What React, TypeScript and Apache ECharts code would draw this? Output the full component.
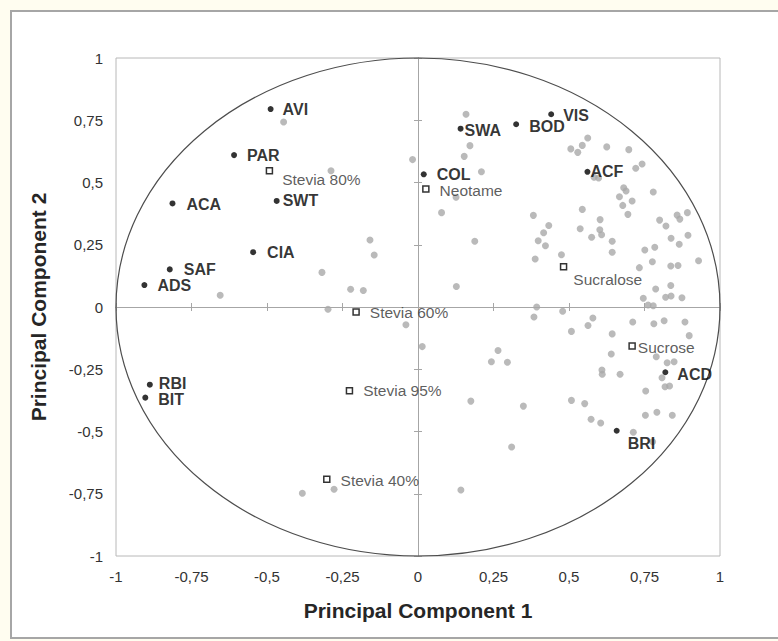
import React, { useEffect, useRef } from "react";
import * as echarts from "echarts";

// ---- Data ----
const axisTicks = [-1, -0.75, -0.5, -0.25, 0, 0.25, 0.5, 0.75, 1];

const consumerPoints: [number, number][] = [
  [-0.445, 0.743], [-0.288, 0.547], [-0.018, 0.592], [-0.159, 0.269], [-0.145, 0.209],
  [-0.318, 0.139], [-0.223, 0.071], [-0.181, 0.066], [-0.655, 0.047], [-0.298, -0.009],
  [-0.04, -0.071], [-0.383, -0.748], [-0.278, -0.732],
  [0.159, 0.774], [0.172, 0.648], [0.153, 0.605], [0.21, 0.543], [0.126, 0.441],
  [0.078, 0.379], [0.188, 0.264], [0.127, 0.082],
  [0.506, 0.635], [0.529, 0.621], [0.544, 0.649], [0.562, 0.679], [0.625, 0.643],
  [0.698, 0.632], [0.583, 0.521], [0.598, 0.518], [0.721, 0.557], [0.742, 0.574],
  [0.779, 0.462], [0.681, 0.479], [0.689, 0.466], [0.667, 0.443], [0.709, 0.426],
  [0.678, 0.408], [0.695, 0.372], [0.544, 0.392], [0.382, 0.368], [0.603, 0.351],
  [0.537, 0.314], [0.602, 0.31], [0.608, 0.29], [0.575, 0.28], [0.433, 0.327],
  [0.416, 0.298], [0.398, 0.266], [0.422, 0.246], [0.388, 0.193], [0.475, 0.21],
  [0.643, 0.264], [0.643, 0.22], [0.8, 0.349], [0.821, 0.325], [0.858, 0.369],
  [0.867, 0.353], [0.892, 0.379], [0.838, 0.276], [0.865, 0.252], [0.894, 0.288],
  [0.784, 0.24], [0.751, 0.229], [0.776, 0.182], [0.733, 0.158], [0.837, 0.165],
  [0.861, 0.167], [0.929, 0.186], [0.787, 0.072], [0.837, 0.086], [0.746, 0.035],
  [0.82, 0.039], [0.838, 0.044], [0.874, 0.037], [0.762, 0.008], [0.779, 0.005],
  [0.393, 0.0], [0.384, -0.04], [0.479, -0.017], [0.014, -0.159], [0.265, -0.175],
  [0.243, -0.22], [0.296, -0.222], [0.508, -0.098], [0.563, -0.074], [0.579, -0.044],
  [0.711, -0.06], [0.781, -0.067], [0.815, -0.055], [0.884, -0.06], [0.898, -0.115],
  [0.643, -0.108], [0.64, -0.189], [0.789, -0.2], [0.825, -0.224], [0.848, -0.22],
  [0.609, -0.253], [0.61, -0.27], [0.669, -0.27], [0.808, -0.284], [0.818, -0.32],
  [0.833, -0.317], [0.754, -0.337], [0.508, -0.375], [0.552, -0.388], [0.175, -0.378],
  [0.349, -0.398], [0.573, -0.451], [0.605, -0.466], [0.753, -0.435], [0.791, -0.423],
  [0.842, -0.435], [0.713, -0.503], [0.777, -0.541], [0.31, -0.562], [0.142, -0.735],
];

const attributeNames = ["AVI", "PAR", "ACA", "SWT", "CIA", "SAF", "ADS", "RBI", "BIT", "SWA", "BOD", "VIS", "COL", "ACF", "ACD", "BRI"];
const attributePC1 = [-0.488, -0.609, -0.813, -0.468, -0.546, -0.822, -0.906, -0.888, -0.903, 0.141, 0.325, 0.441, 0.019, 0.561, 0.819, 0.658];
const attributePC2 = [0.795, 0.61, 0.416, 0.426, 0.22, 0.151, 0.088, -0.312, -0.364, 0.716, 0.734, 0.774, 0.533, 0.543, -0.262, -0.497];

const sampleNames = ["Stevia 80%", "Neotame", "Sucralose", "Stevia 60%", "Stevia 95%", "Stevia 40%", "Sucrose"];
const samplePC1 = [-0.492, 0.026, 0.482, -0.205, -0.227, -0.302, 0.709];
const samplePC2 = [0.547, 0.474, 0.162, -0.02, -0.336, -0.692, -0.157];

const CIRCLE_RADIUS = 1;

// ---- Label placement (style, px: from marker centre to text start, vertical shift) ----
const labelShift: Record<string, [number, number]> = {
  AVI: [12, 0], PAR: [13, 0], ACA: [14, 1], SWT: [6, 0], CIA: [14, 0], SAF: [14, 0], ADS: [13, 0],
  RBI: [9, -1], BIT: [13, 2], SWA: [4, 2], BOD: [13, 2], VIS: [12, 1], COL: [13, 0], ACF: [3, 0],
  ACD: [12, 2], BRI: [11, 13],
  "Stevia 80%": [12, 9], Neotame: [13, 2], Sucralose: [9, 13], "Stevia 60%": [13, 1],
  "Stevia 95%": [13, 0], "Stevia 40%": [13, 1], Sucrose: [5, 1],
};

const FONT = "'Liberation Sans', Arial, sans-serif";
const fmt = (v: number) => String(v).replace(".", ",");

export default function App() {
  const ref = useRef<HTMLDivElement>(null);

  useEffect(() => {
    if (!ref.current) return;
    const chart = echarts.init(ref.current, undefined, { renderer: "svg" });

    const BLACK_SIZE = 6;
    const SQUARE_SIZE = 6;

    const attrData = attributeNames.map((n, i) => {
      const s = labelShift[n] || [10, 0];
      return {
        name: n,
        value: [attributePC1[i], attributePC2[i]],
        label: { offset: [s[0] - BLACK_SIZE / 2, s[1]] },
      };
    });
    const sampleData = sampleNames.map((n, i) => {
      const s = labelShift[n] || [10, 0];
      return {
        name: n,
        value: [samplePC1[i], samplePC2[i]],
        label: { offset: [s[0] - SQUARE_SIZE / 2, s[1]] },
      };
    });

    const baseAxis = { type: "value", min: -1, max: 1, interval: 0.25, splitLine: { show: false } };
    const lineAxis = (inside: boolean) => ({
      ...baseAxis,
      axisLine: { show: true, onZero: true, lineStyle: { color: "#a6a6a6", width: 1 } },
      axisTick: { show: true, inside, length: 4, lineStyle: { color: "#a6a6a6", width: 1 } },
      axisLabel: { show: false },
    });

    chart.setOption({
      animation: false,
      backgroundColor: "#fffdf0",
      textStyle: { fontFamily: FONT },
      graphic: [
        {
          type: "rect",
          shape: { x: 11, y: 11, width: 780, height: 627 },
          style: { fill: "#ffffff", stroke: "#a6a6a6", lineWidth: 2 },
          z: -10,
          silent: true,
        },
      ],
      grid: {
        left: 116,
        top: 58,
        width: 604,
        height: 498,
        show: true,
        borderColor: "#b8b8b8",
        borderWidth: 1,
        backgroundColor: "transparent",
      },
      xAxis: [
        {
          ...baseAxis,
          position: "bottom",
          axisLine: { show: false, onZero: false },
          axisTick: { show: false },
          axisLabel: { fontSize: 15, color: "#333", margin: 13, fontFamily: FONT, formatter: fmt, customValues: axisTicks },
          name: "Principal Component 1",
          nameLocation: "middle",
          nameGap: 44,
          nameTextStyle: { fontSize: 21, fontWeight: "bold", color: "#262626", fontFamily: FONT },
        },
        lineAxis(false),
        lineAxis(true),
      ],
      yAxis: [
        {
          ...baseAxis,
          position: "left",
          axisLine: { show: false, onZero: false },
          axisTick: { show: false },
          axisLabel: { fontSize: 15, color: "#333", margin: 13, fontFamily: FONT, formatter: fmt },
          name: "Principal Component 2",
          nameLocation: "middle",
          nameGap: 67,
          nameTextStyle: { fontSize: 21, fontWeight: "bold", color: "#262626", fontFamily: FONT },
        },
        lineAxis(false),
        lineAxis(true),
      ],
      series: [
        {
          type: "scatter",
          name: "consumers",
          data: consumerPoints,
          symbol: "circle",
          symbolSize: 7,
          itemStyle: { color: "#a9a9a9" },
          z: 2,
          silent: true,
        },
        {
          type: "custom",
          name: "circle",
          data: [[0, 0]],
          z: 3,
          silent: true,
          renderItem: (_params: any, api: any) => {
            const c = api.coord([0, 0]);
            const e = api.coord([CIRCLE_RADIUS, CIRCLE_RADIUS]);
            const rx = e[0] - c[0];
            const ry = c[1] - e[1];
            const d = `M ${c[0] - rx} ${c[1]} A ${rx} ${ry} 0 1 1 ${c[0] + rx} ${c[1]} A ${rx} ${ry} 0 1 1 ${c[0] - rx} ${c[1]} Z`;
            return {
              type: "path",
              shape: { pathData: d },
              style: { fill: "none", stroke: "#4d4d4d", lineWidth: 1.2 },
            };
          },
        },
        {
          type: "scatter",
          name: "attributes",
          data: attrData,
          symbol: "circle",
          symbolSize: BLACK_SIZE,
          itemStyle: { color: "#000" },
          z: 5,
          label: {
            show: true,
            position: "right",
            distance: 0,
            formatter: "{b}",
            fontSize: 16,
            lineHeight: 14,
            fontWeight: "bold",
            color: "#000",
            fontFamily: FONT,
            align: "left",
            verticalAlign: "middle",
          },
        },
        {
          type: "scatter",
          name: "samples",
          data: sampleData,
          symbol: "rect",
          symbolSize: SQUARE_SIZE,
          itemStyle: { color: "#fff", borderColor: "#000", borderWidth: 1.5 },
          z: 5,
          label: {
            show: true,
            position: "right",
            distance: 0,
            formatter: "{b}",
            fontSize: 15.5,
            lineHeight: 14,
            color: "#333",
            fontFamily: FONT,
            align: "left",
            verticalAlign: "middle",
          },
        },
      ],
    });

    return () => chart.dispose();
  }, []);

  return (
    <div
      ref={ref}
      style={{ position: "fixed", left: 0, top: 0, width: 778, height: 641 }}
    />
  );
}
